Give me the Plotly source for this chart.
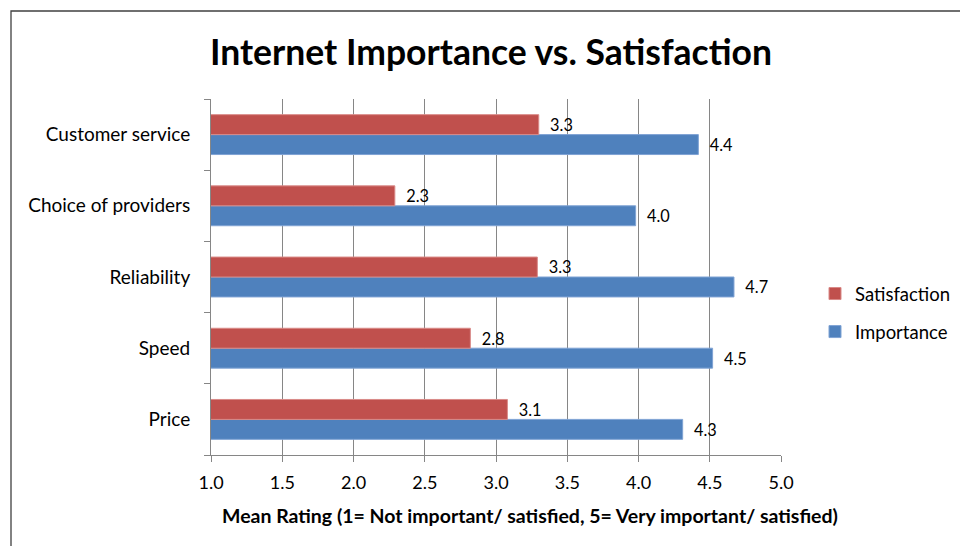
import plotly.graph_objects as go

categories = ["Price", "Speed", "Reliability", "Choice of providers", "Customer service"]
importance = [4.31, 4.52, 4.67, 3.98, 4.42]
satisfaction = [3.08, 2.82, 3.29, 2.29, 3.30]
x_ticks = [1.0, 1.5, 2.0, 2.5, 3.0, 3.5, 4.0, 4.5, 5.0]

FONT = "Lato"
GRID = "#868686"

# plot area in pixels
L, R, T, B = 211, 781, 99, 455
W, H = 960, 546

fig = go.Figure()
fig.add_trace(go.Bar(
    y=categories, x=importance, orientation="h", name="Importance",
    marker=dict(color="#4F81BD", line=dict(color="#7FA3D4", width=1)),
    texttemplate="\u00a0\u00a0%{x:.1f}", textposition="outside",
    textfont=dict(family=FONT, size=18, color="#000000"),
    legendrank=2, legendgroup="imp",
))
fig.add_trace(go.Bar(
    y=categories, x=satisfaction, orientation="h", name="Satisfaction",
    marker=dict(color="#C0504D", line=dict(color="#D98A88", width=1)),
    texttemplate="\u00a0\u00a0%{x:.1f}", textposition="outside",
    textfont=dict(family=FONT, size=18, color="#000000"),
    legendrank=1, legendgroup="sat",
))

def px_x(p):
    return (p - L) / (R - L)

def px_y(p):
    return (B - p) / (B - T)

fig.update_layout(
    width=W, height=H,
    margin=dict(l=L, r=W - R, t=T, b=H - B, pad=0, autoexpand=False),
    paper_bgcolor="white", plot_bgcolor="white",
    barmode="group", bargap=0.44, bargroupgap=0,
    font=dict(family=FONT, size=18, color="#000000"),
    title=dict(text="<b>Internet Importance vs. Satisfaction</b>",
               x=491 / W, xanchor="center", xref="container",
               y=1 - 53 / H, yanchor="middle", yref="container",
               font=dict(family=FONT, size=35.5, color="#000000")),
    xaxis=dict(range=[1, 5], tickvals=x_ticks, ticktext=[f"{v:.1f}" for v in x_ticks],
               showgrid=True, gridcolor=GRID, gridwidth=1,
               showline=True, linecolor=GRID, linewidth=1,
               ticks="outside", ticklen=6, tickcolor=GRID,
               tickfont=dict(family=FONT, size=18), zeroline=False,
               ticklabelstandoff=5),
    yaxis=dict(categoryorder="array", categoryarray=categories,
               showgrid=False, showline=True, linecolor=GRID, linewidth=1,
               ticks="outside", ticklen=6, tickcolor=GRID, tickson="boundaries",
               tickfont=dict(family=FONT, size=19), ticklabelstandoff=16),
    showlegend=True,
    legend=dict(x=px_x(815), y=px_y(275), xanchor="left", yanchor="top",
                traceorder="grouped", tracegroupgap=11,
                font=dict(family=FONT, size=18.5), bgcolor="rgba(0,0,0,0)"),
    annotations=[dict(
        text="<b>Mean Rating (1= Not important/ satisfied, 5= Very important/ satisfied)</b>",
        xref="paper", yref="paper", x=px_x(530), y=px_y(515),
        xanchor="center", yanchor="middle", showarrow=False,
        font=dict(family=FONT, size=19.5, color="#000000"))],
    shapes=[dict(type="rect", xref="paper", yref="paper",
                 x0=px_x(11), x1=px_x(1100), y0=px_y(700), y1=px_y(11),
                 line=dict(color="#404040", width=1.3), layer="below")],
)

fig.write_html("out.html", config={"displayModeBar": False},
               post_script="document.body.style.margin='0';document.body.style.overflow='hidden';")
